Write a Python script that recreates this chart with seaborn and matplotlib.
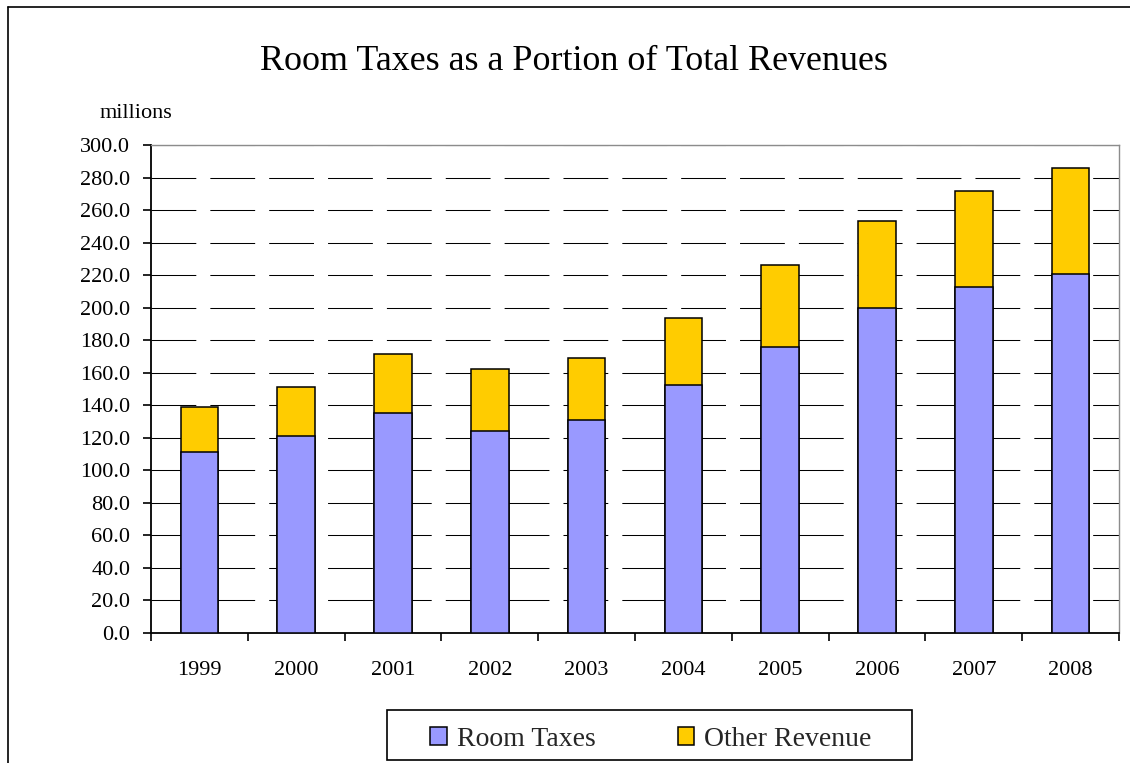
import matplotlib
matplotlib.use("Agg")
import matplotlib.pyplot as plt
from matplotlib.patches import Patch, Rectangle
from matplotlib.lines import Line2D
from matplotlib.ticker import FormatStrFormatter, FixedLocator
import seaborn as sns
import pandas as pd
import numpy as np

# Revenue by year, in millions
years = ["1999", "2000", "2001", "2002", "2003", "2004", "2005", "2006", "2007", "2008"]
room_taxes = [111.0, 121.0, 135.5, 124.0, 131.0, 152.5, 176.0, 200.0, 213.0, 221.0]
other_revenue = [28.0, 30.5, 36.0, 38.0, 38.0, 41.0, 50.0, 53.5, 59.0, 65.0]
y_ticks = np.arange(0, 301, 20)

sns.set_theme(style="white")
plt.rcParams["font.family"] = ["Liberation Serif", "DejaVu Serif"]

blue = "#9999FF"
gold = "#FFCC00"

df = pd.DataFrame({
    "year": years,
    "room": room_taxes,
    "total": np.array(room_taxes) + np.array(other_revenue),
})

W, H = 1130, 763
fig = plt.figure(figsize=(W / 100, H / 100), dpi=100)
ax = fig.add_axes([151 / W, 130 / H, 968 / W, 488 / H])

# Stacked bars: full height in gold, room taxes drawn over it in blue
sns.barplot(data=df, x="year", y="total", color=gold, edgecolor="black",
            linewidth=1.1, width=0.39, saturation=1, ax=ax, zorder=3)
sns.barplot(data=df, x="year", y="room", color=blue, edgecolor="black",
            linewidth=1.1, width=0.39, saturation=1, ax=ax, zorder=4)

ax.set_xlim(-0.5, len(years) - 0.5)
ax.set_ylim(0, 300)
ax.set_yticks(y_ticks)
ax.yaxis.set_major_formatter(FormatStrFormatter("%.1f"))
ax.set_xlabel("")
ax.set_ylabel("")

# Dashed horizontal gridlines
ax.yaxis.grid(True, color="black", linewidth=0.75, linestyle=(0, (43, 13.5)), zorder=1)
ax.xaxis.grid(False)

for side in ["left", "bottom"]:
    ax.spines[side].set_color("black")
    ax.spines[side].set_linewidth(1.3)
for side in ["top", "right"]:
    ax.spines[side].set_color("#8c8c8c")
    ax.spines[side].set_linewidth(1.0)

ax.tick_params(axis="y", which="major", direction="out", length=6, width=1.2,
               color="black", labelsize=16, labelcolor="black", pad=9, left=True)
ax.tick_params(axis="x", which="major", length=0, labelsize=16,
               labelcolor="black", pad=20)
ax.xaxis.set_minor_locator(FixedLocator(np.arange(-0.5, len(years), 1.0)))
ax.tick_params(axis="x", which="minor", direction="out", length=6, width=1.2,
               color="black", bottom=True)

fig.text(574 / W, 1 - 61 / H, "Room Taxes as a Portion of Total Revenues",
         ha="center", va="center", fontsize=25.9, color="black")
fig.text(136 / W, 1 - 114 / H, "millions", ha="center", va="center",
         fontsize=16, color="black")

# Legend box and entries
fig.add_artist(Rectangle((387 / W, 1 - 760 / H), 525 / W, 50 / H,
                         transform=fig.transFigure, facecolor="white",
                         edgecolor="black", linewidth=1.2))
handles = [Patch(facecolor=blue, edgecolor="black", linewidth=1.1, label="Room Taxes"),
           Patch(facecolor=gold, edgecolor="black", linewidth=1.1, label="Other Revenue")]
leg = fig.legend(handles=handles, loc="center", ncol=2,
                 bbox_to_anchor=(651 / W, 1 - 739 / H),
                 frameon=False, fontsize=20,
                 handlelength=0.6, handleheight=0.6, handletextpad=0.36,
                 columnspacing=2.95, borderpad=0.0)

# Outer chart border (left and top edges visible)
fig.add_artist(Line2D([8 / W, 8 / W], [-0.05, 1 - 7 / H],
                      transform=fig.transFigure, color="black", linewidth=1.2))
fig.add_artist(Line2D([8 / W, 1.05], [1 - 7 / H, 1 - 7 / H],
                      transform=fig.transFigure, color="black", linewidth=1.2))

fig.savefig("out.png", dpi=100)
